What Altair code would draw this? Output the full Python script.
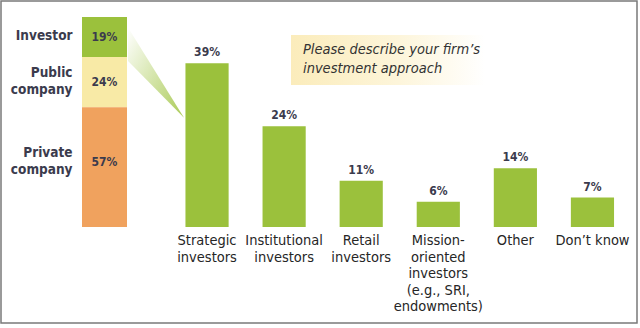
import altair as alt
import pandas as pd

# ---- data ----
approach_categories = [
    "Strategic\ninvestors",
    "Institutional\ninvestors",
    "Retail\ninvestors",
    "Mission-\noriented\ninvestors\n(e.g., SRI,\nendowments)",
    "Other",
    "Don\u2019t know",
]
approach_pct = [39, 24, 11, 6, 14, 7]

company_types = ["Investor", "Public\ncompany", "Private\ncompany"]
company_pct = [19, 24, 57]
company_colors = ["#9bc13c", "#f8eaa6", "#f0a25e"]

title_lines = "Please describe your firm\u2019s\ninvestment approach"

FONT = "DejaVu Sans Condensed, Liberation Sans Narrow, sans-serif"
GREEN = "#9bc13c"
DARK = "#3b3b4d"

# ---- main bars ----
main_df = pd.DataFrame({
    "cat": approach_categories,
    "pct": approach_pct,
    "lbl": [f"{v}%" for v in approach_pct],
})
xs = alt.X("cat:N", sort=approach_categories,
           scale=alt.Scale(range=[168.5, 631], paddingInner=0.44, paddingOuter=0.22),
           axis=None)
ys = alt.Y("pct:Q", scale=alt.Scale(domain=[0, 50]), axis=None)

bars = alt.Chart(main_df).mark_bar(color=GREEN).encode(x=xs, y=ys)
vlabels = alt.Chart(main_df).mark_text(
    baseline="bottom", dy=-4, font=FONT, fontSize=12, fontWeight="bold", color=DARK
).encode(x=xs, y=ys, text="lbl:N")
clabels = alt.Chart(main_df).mark_text(
    baseline="top", dy=7, font=FONT, fontSize=14.5, lineHeight=16.6, lineBreak="\n", color="#262626"
).encode(x=xs, y=alt.datum(0), text="cat:N")
main = alt.layer(bars, vlabels, clabels)

# ---- stacked company bar ----
tops, bottoms = [], []
acc = 100
for v in company_pct:
    tops.append(acc)
    bottoms.append(acc - v)
    acc -= v
stack_df = pd.DataFrame({
    "ctype": company_types,
    "share": company_pct,
    "top": tops,
    "bottom": bottoms,
    "grp": ["Company"] * 3,
    "slbl": [f"{v}%" for v in company_pct],
})
stack_df["mid"] = [max((t + b) / 2, t - 26) for t, b in zip(tops, bottoms)]
# multi-line names: centre the whole block on the segment label position
LINE_H = 17
PX_PER_UNIT = 210 / 100
stack_df["name_y"] = [
    m + (c.count("\n")) * LINE_H / 2 / PX_PER_UNIT + 0.4
    for m, c in zip(stack_df["mid"], company_types)
]

sx = alt.X("grp:N", scale=alt.Scale(range=[82, 127], paddingInner=0, paddingOuter=0), axis=None)
sy_scale = alt.Scale(domain=[0, 100])
segs = alt.Chart(stack_df).mark_bar().encode(
    x=sx,
    y=alt.Y("top:Q", scale=sy_scale, axis=None),
    y2="bottom:Q",
    color=alt.Color("ctype:N", scale=alt.Scale(domain=company_types, range=company_colors), legend=None),
)
seg_vals = alt.Chart(stack_df).mark_text(
    font=FONT, fontSize=12, fontWeight="bold", color=DARK, baseline="middle"
).encode(x=sx, y=alt.Y("mid:Q", scale=sy_scale, axis=None), text="slbl:N")
seg_names = alt.Chart(stack_df).mark_text(
    font=FONT, fontSize=13.5, fontWeight="bold", color=DARK, align="right",
    baseline="middle", dx=-32, lineBreak="\n", lineHeight=LINE_H
).encode(x=sx, y=alt.Y("name_y:Q", scale=sy_scale, axis=None), text="ctype:N")
stack = alt.layer(segs, seg_vals, seg_names)

# ---- connector (investor segment -> strategic bar) ----
inv_top, inv_bottom = tops[0], bottoms[0]
conn_df = pd.DataFrame({
    "t": [0, 1],
    "ctop": [inv_top - 5, 52],
    "cbot": [inv_bottom - 2, 52],
})
connector = alt.Chart(conn_df).mark_area(
    fill=alt.Gradient(
        gradient="linear",
        stops=[alt.GradientStop(color="#ffffff", offset=0),
               alt.GradientStop(color="#a6c84e", offset=1)],
        x1=0, y1=0, x2=1, y2=1,
    ),
    opacity=0.95,
).encode(
    x=alt.X("t:Q", scale=alt.Scale(domain=[0, 1], range=[128, 184]), axis=None),
    y=alt.Y("ctop:Q", scale=alt.Scale(domain=[0, 100]), axis=None),
    y2="cbot:Q",
)

# ---- decorations ----
one = pd.DataFrame({"a": [0]})
frame = alt.Chart(one).mark_rect(fill="transparent", stroke="#7a7a7a", strokeWidth=1.5).encode(
    x=alt.value(1), x2=alt.value(637), y=alt.value(-16), y2=alt.value(306)
)
title_box = alt.Chart(one).mark_rect(
    fill=alt.Gradient(
        gradient="linear",
        stops=[alt.GradientStop(color="#fbecbb", offset=0),
               alt.GradientStop(color="#fdf5da", offset=0.55),
               alt.GradientStop(color="#ffffff", offset=1)],
        x1=0, y1=0, x2=1, y2=0,
    )
).encode(x=alt.value(291), x2=alt.value(485), y=alt.value(18), y2=alt.value(68))
title_text = alt.Chart(pd.DataFrame({"t": [title_lines]})).mark_text(
    align="left", baseline="top", font=FONT, fontSize=14.5, fontStyle="italic",
    color="#333333", lineBreak="\n", lineHeight=19
).encode(x=alt.value(303), y=alt.value(26), text="t:N")

chart = alt.layer(frame, title_box, title_text, connector, stack, main).resolve_scale(
    x="independent", y="independent", color="independent"
).properties(
    width=640, height=210,
    autosize=alt.AutoSizeParams(type="none"),
    padding={"left": 0, "top": 17, "right": 0, "bottom": 101},
    background="white",
).configure_view(stroke=None)

chart.save("out.html", embed_options={"renderer": "svg", "actions": False})
